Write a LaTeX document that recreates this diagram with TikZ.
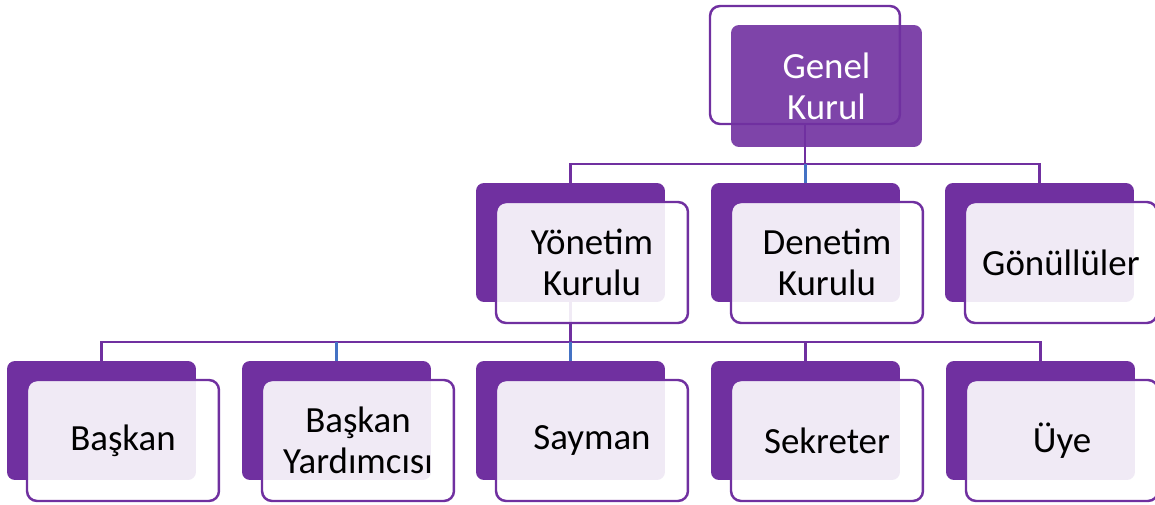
\documentclass[tikz,border=0pt]{standalone}
\usepackage{fontspec}
\setmainfont{Carlito}
\usetikzlibrary{backgrounds}
\definecolor{pur}{RGB}{112,48,160}
\definecolor{lnk}{RGB}{68,114,196}
\begin{document}
\begin{tikzpicture}[x=0.02cm,y=-0.02cm,
  back/.style={fill=pur, draw=none, rounded corners=0.16cm, minimum width=3.78cm, minimum height=2.38cm, inner sep=0pt, outer sep=0pt, anchor=north west},
  front/.style={draw=pur, line width=1.4pt, fill=white, fill opacity=0.9, text opacity=1, text=black, rounded corners=0.2cm, minimum width=3.84cm, minimum height=2.42cm, inner sep=0pt, outer sep=0pt, anchor=north west, align=center, font=\fontsize{21}{23.5}\selectfont},
  conn/.style={draw=pur, line width=1.2pt},
  connb/.style={draw=lnk, line width=1.2pt}]
\useasboundingbox (0,0) rectangle (1155,504);

% level 1
\node[back, fill opacity=0.9, text opacity=1, text=white, minimum width=3.82cm, minimum height=2.44cm, align=center, font=\fontsize{21}{23.5}\selectfont] (gkP) at (731,25) {Genel\\Kurul};
\node[draw=pur, line width=1.4pt, rounded corners=0.2cm, minimum width=3.8cm, minimum height=2.36cm, inner sep=0pt, outer sep=0pt, anchor=north west] (gkO) at (710,6) {};

% level 2
\node[back] (yonP) at (476,183) {};
\node[front] (yonF) at (496,202) {Yönetim\\Kurulu};
\node[back] (denP) at (711,183) {};
\node[front] (denF) at (731,202) {Denetim\\Kurulu};
\node[back] (gonP) at (945,183) {};
\node[front] (gonF) at (965,202) {Gönüllüler};

% level 3
\node[back] (basP) at (7,361) {};
\node[front] (basF) at (27,380) {Başkan};
\node[back] (yrdP) at (242,361) {};
\node[front] (yrdF) at (262,380) {Başkan\\Yardımcısı};
\node[back] (sayP) at (476,361) {};
\node[front] (sayF) at (496,380) {Sayman};
\node[back] (sekP) at (711,361) {};
\node[front] (sekF) at (731,380) {Sekreter};
\node[back] (uyeP) at (946,361) {};
\node[front] (uyeF) at (966,380) {Üye};

\begin{scope}[on background layer]
\coordinate (b1) at (0,164);
\coordinate (b2) at (0,342);
\draw[conn] (gkO.south) -- (gkO.south |- b1);
\draw[conn] (yonP.north) |- (gonP.north |- b1) -- (gonP.north);
\draw[connb] (denP.north |- b1) -- (denP.north);
\draw[conn] (yonP.south) -- (yonP.south |- b2);
\draw[conn] (basP.north) |- (uyeP.north |- b2) -- (uyeP.north);
\draw[connb] (yrdP.north |- b2) -- (yrdP.north);
\draw[connb] (sayP.north |- b2) -- (sayP.north);
\draw[conn] (sekP.north |- b2) -- (sekP.north);
\end{scope}
\end{tikzpicture}
\end{document}
